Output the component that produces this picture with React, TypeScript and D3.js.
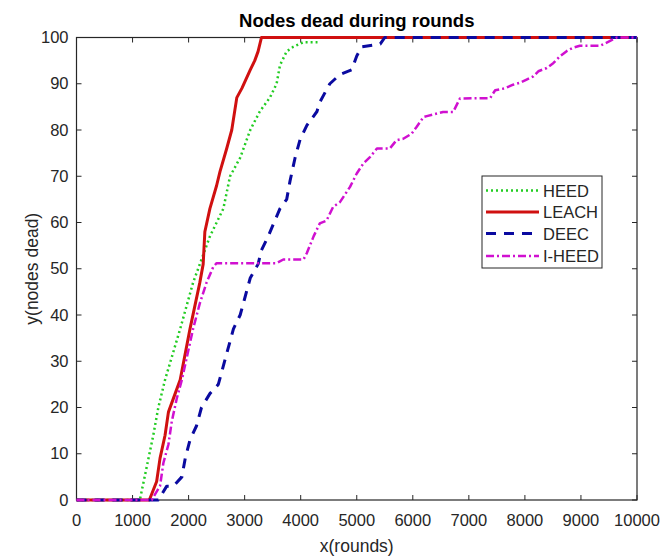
import React from "react";
import * as d3 from "d3";

const W = 664;
const H = 558;

const xTicks = [0, 1000, 2000, 3000, 4000, 5000, 6000, 7000, 8000, 9000, 10000];
const yTicks = [0, 10, 20, 30, 40, 50, 60, 70, 80, 90, 100];

const heedX = [0, 1130, 1250, 1370, 1460, 1580, 1850, 2080, 2200, 2380, 2620, 2740, 2920, 3100, 3270, 3450, 3570, 3630, 3750, 3870, 4050, 4300];
const heedY = [0, 0, 7, 14, 20, 26, 37, 47, 51, 57, 63, 70, 74, 80, 84, 87, 90, 94, 97, 98, 99, 99];

const leachX = [0, 1300, 1430, 1490, 1580, 1640, 1760, 1850, 2025, 2200, 2260, 2290, 2380, 2500, 2560, 2680, 2770, 2860, 2950, 3100, 3180, 3240, 3300, 10000];
const leachY = [0, 0, 4, 9, 14, 19, 23, 26, 37, 47, 51, 58, 63, 68, 71, 76, 80, 87, 89, 93, 95, 97, 100, 100];

const deecX = [0, 1460, 1610, 1730, 1880, 1940, 2025, 2140, 2230, 2380, 2530, 2800, 2920, 3010, 3100, 3240, 3300, 3420, 3630, 3750, 3810, 3900, 3990, 4110, 4290, 4340, 4520, 4700, 4910, 5000, 5090, 5420, 5500, 10000];
const deecY = [0, 0, 3, 3, 5, 9, 13, 16, 20, 23, 25, 37, 40, 44, 48, 51, 54, 57, 63, 65, 69, 74, 78, 81, 84, 86, 90, 92, 93, 96, 98, 98.6, 100, 100];

const iheedX = [0, 1340, 1490, 1550, 1640, 1700, 1790, 1880, 2080, 2200, 2320, 2440, 2500, 3570, 3690, 4050, 4110, 4230, 4340, 4460, 4580, 4700, 4880, 5000, 5120, 5240, 5360, 5590, 5710, 5830, 5980, 6070, 6190, 6250, 6540, 6720, 6840, 7380, 7470, 7640, 7790, 7910, 8030, 8150, 8240, 8390, 8510, 8630, 8750, 8860, 8980, 9340, 9460, 9640, 10000];
const iheedY = [0, 0, 3, 8, 12, 17, 22, 26, 37, 42.5, 47, 50.4, 51.2, 51.2, 52, 52, 53.4, 57, 59.8, 60.4, 63.4, 64.4, 67.7, 70.6, 72.8, 74.2, 76, 76, 77.8, 78.1, 79.2, 80.7, 82.8, 83, 83.9, 83.9, 86.8, 86.9, 88.6, 89, 89.8, 90.2, 90.9, 91.6, 92.7, 93.4, 94.5, 96, 97.1, 97.8, 98.2, 98.2, 98.9, 100, 100];

const seriesNames = ["HEED", "LEACH", "DEEC", "I-HEED"];

const series = [
  { name: seriesNames[0], xs: heedX, ys: heedY, color: "#22cc22", width: 2.5, dash: "2,3" },
  { name: seriesNames[1], xs: leachX, ys: leachY, color: "#d01010", width: 3, dash: "" },
  { name: seriesNames[2], xs: deecX, ys: deecY, color: "#0a0aa0", width: 3, dash: "10,8" },
  { name: seriesNames[3], xs: iheedX, ys: iheedY, color: "#d010d0", width: 2.5, dash: "8,3,2,3" },
];

export default function App() {
  const left = 76.5;
  const right = 637;
  const top = 37.5;
  const bottom = 500;
  const x = d3.scaleLinear().domain([0, 10000]).range([left, right]);
  const y = d3.scaleLinear().domain([0, 100]).range([bottom, top]);
  const line = d3
    .line<[number, number]>()
    .x((d) => x(d[0]))
    .y((d) => y(d[1]));
  const axisColor = "#262626";
  const font = "'Liberation Sans', Arial, sans-serif";
  const tl = 5;

  const legX = 482;
  const legY = 176;
  const legW = 120;
  const legH = 92;
  const rowY = [190.5, 212, 233.5, 256];

  return (
    <svg
      width={W}
      height={H}
      style={{ position: "absolute", left: 0, top: 0, background: "#fff" }}
      fontFamily={font}
    >
      <rect x={0} y={0} width={W} height={H} fill="#fff" />
      <text x={(left + right) / 2} y={27} textAnchor="middle" fontSize={18.5} fontWeight="bold" fill="#000">
        Nodes dead during rounds
      </text>
      <rect x={left} y={top} width={right - left} height={bottom - top} fill="none" stroke={axisColor} strokeWidth={1.2} />
      {xTicks.map((t) => (
        <g key={"x" + t}>
          <line x1={x(t)} x2={x(t)} y1={bottom} y2={bottom - tl} stroke={axisColor} strokeWidth={1} />
          <line x1={x(t)} x2={x(t)} y1={top} y2={top + tl} stroke={axisColor} strokeWidth={1} />
          <text x={x(t)} y={526} textAnchor="middle" fontSize={16.5} fill={axisColor}>
            {t}
          </text>
        </g>
      ))}
      {yTicks.map((t) => (
        <g key={"y" + t}>
          <line x1={left} x2={left + tl} y1={y(t)} y2={y(t)} stroke={axisColor} strokeWidth={1} />
          <line x1={right} x2={right - tl} y1={y(t)} y2={y(t)} stroke={axisColor} strokeWidth={1} />
          <text x={left - 8} y={y(t) + 5.5} textAnchor="end" fontSize={16.5} fill={axisColor}>
            {t}
          </text>
        </g>
      ))}
      <text x={(left + right) / 2} y={552} textAnchor="middle" fontSize={17.5} fill={axisColor}>
        x(rounds)
      </text>
      <text
        transform={`translate(${38},${(top + bottom) / 2}) rotate(-90)`}
        textAnchor="middle"
        fontSize={17.5}
        fill={axisColor}
      >
        y(nodes dead)
      </text>
      {series.map((s) => {
        const pts = s.xs.map((v, k) => [v, s.ys[k]] as [number, number]);
        return (
          <path
            key={s.name}
            d={line(pts) || ""}
            fill="none"
            stroke={s.color}
            strokeWidth={s.width}
            strokeDasharray={s.dash || undefined}
            strokeLinejoin="round"
          />
        );
      })}
      <rect x={legX} y={legY} width={legW} height={legH} fill="#fff" stroke={axisColor} strokeWidth={1} />
      {series.map((s, i) => (
        <g key={"leg" + s.name}>
          <line
            x1={legX + 4}
            x2={legX + 57}
            y1={rowY[i]}
            y2={rowY[i]}
            stroke={s.color}
            strokeWidth={s.width}
            strokeDasharray={s.dash || undefined}
          />
          <text x={legX + 61} y={rowY[i] + 6} fontSize={16.5} fill={axisColor}>
            {s.name}
          </text>
        </g>
      ))}
    </svg>
  );
}
